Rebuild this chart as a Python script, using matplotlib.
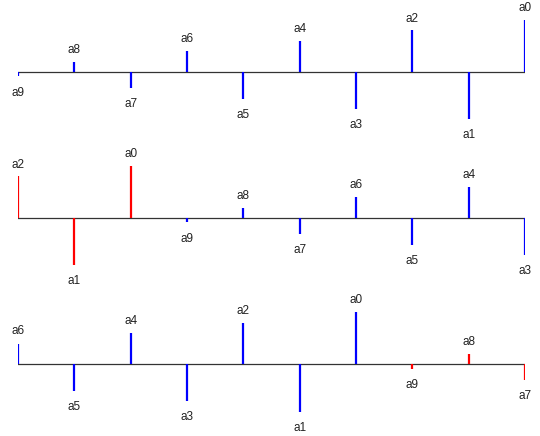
import matplotlib.pyplot as plt

# coefficient values a0..a9 (in pixel-ish units)
names = ['a0', 'a1', 'a2', 'a3', 'a4', 'a5', 'a6', 'a7', 'a8', 'a9']
values = [52, -47.5, 41.5, -37, 31, -27, 20.5, -16, 10, -4.5]

# order of the stems in each row (left to right), and the ones drawn in red
row1_order = [9, 8, 7, 6, 5, 4, 3, 2, 1, 0]
row2_order = [2, 1, 0, 9, 8, 7, 6, 5, 4, 3]
row3_order = [6, 5, 4, 3, 2, 1, 0, 9, 8, 7]
row1_red = []
row2_red = [2, 1, 0]
row3_red = [9, 8, 7]

rows = [(row1_order, row1_red), (row2_order, row2_red), (row3_order, row3_red)]

plt.rcParams['font.family'] = ['Liberation Sans', 'DejaVu Sans']

W, H = 540, 436
fig = plt.figure(figsize=(W / 100, H / 100), dpi=100)

row_h = 146
for i, (order, red) in enumerate(rows):
    ax = fig.add_axes([18 / W, (H - row_h * (i + 1)) / H, 507 / W, row_h / H])
    ax.set_xlim(0, 9)
    ax.set_ylim(-74, 72)
    ax.axis('off')
    ax.axhline(0, color='#333333', lw=0.9, zorder=1)
    for pos, k in enumerate(order):
        v = values[k]
        col = '#ff0000' if k in red else '#0000ff'
        ax.vlines(pos, 0, v, color=col, lw=1.6, zorder=2)
        if v > 0:
            ax.text(pos, v + 6, names[k], ha='center', va='bottom',
                    fontsize=8.5, color='#222222', clip_on=False)
        else:
            ax.text(pos, v - 10, names[k], ha='center', va='top',
                    fontsize=8.5, color='#222222', clip_on=False)

plt.savefig('out.png', dpi=100)
